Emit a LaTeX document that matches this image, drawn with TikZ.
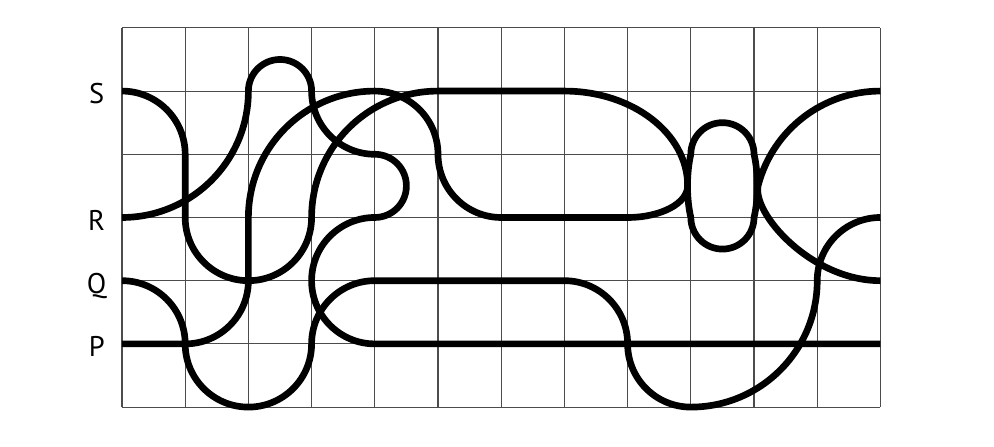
\documentclass[tikz,border=0pt]{standalone}
\usepackage{fontspec}
\setsansfont{PT Sans}
\begin{document}
\begin{tikzpicture}[
gridline/.style={
  draw=black!70,
  line width=0.5pt
  },
rope/.style={
  draw=black,
  line width=3pt
  },
level/.style={
  font=\sffamily\fontsize{12.8}{15}\selectfont,
  anchor=base,
  inner sep=0pt
  }
]
\useasboundingbox (-1.93,-0.616) rectangle (13.797,6.441);
\draw[gridline] (0,0) grid (12,6);
\foreach \lab/\row in {S/5,R/3,Q/2,P/1}
  \node[level] (lab\lab) at (-0.4,\row-0.2) {\lab};
% S round to P
\draw[rope] (0,5) arc[start angle=90, end angle=0, radius=1]
  -- (1,3) arc[start angle=180, end angle=360, radius=1]
  arc[start angle=180, end angle=90, radius=2]
  -- (7,5) arc[start angle=90, end angle=0, x radius=1.95, y radius=1.5]
  arc[start angle=0, end angle=-90, x radius=0.95, y radius=0.5]
  -- (6,3) arc[start angle=270, end angle=180, radius=1]
  arc[start angle=0, end angle=90, radius=1]
  arc[start angle=90, end angle=180, radius=2]
  -- (2,2) arc[start angle=0, end angle=-90, radius=1]
  -- (0,1);
% R to the right end of P
\draw[rope] (0,3) arc[start angle=270, end angle=360, radius=2]
  arc[start angle=180, end angle=0, radius=0.5]
  arc[start angle=180, end angle=270, radius=1]
  arc[start angle=90, end angle=-90, radius=0.5]
  arc[start angle=90, end angle=270, radius=1]
  -- (12,1);
% Q to the right end of R
\draw[rope] (0,2) arc[start angle=90, end angle=0, radius=1]
  arc[start angle=180, end angle=360, radius=1]
  arc[start angle=180, end angle=90, radius=1]
  -- (7,2) arc[start angle=90, end angle=0, radius=1]
  arc[start angle=180, end angle=270, radius=1]
  arc[start angle=270, end angle=360, radius=2]
  arc[start angle=180, end angle=90, radius=1];
% right ends of S and Q
\draw[rope] (12,5) arc[start angle=90, end angle=165, radius=2]
  .. controls (9.95,3.08) and (10.9,2) .. (12,2);
% loop
\draw[rope] (9,4) arc[start angle=180, end angle=0, radius=0.5]
  .. controls (10.07,3.7) and (10.07,3.3) .. (10,3)
  arc[start angle=0, end angle=-180, radius=0.5]
  .. controls (8.93,3.3) and (8.93,3.7) .. cycle;
\end{tikzpicture}
\end{document}
